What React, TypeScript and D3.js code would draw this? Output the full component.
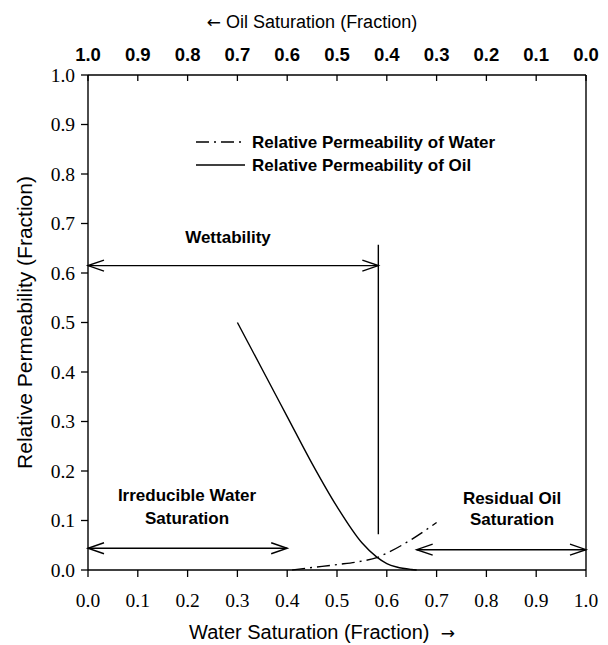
import React from "react";
import * as d3 from "d3";

const W = 608;
const H = 645;
const M = { left: 88, right: 586, top: 75, bottom: 570 };

const xTicks = [0, 0.1, 0.2, 0.3, 0.4, 0.5, 0.6, 0.7, 0.8, 0.9, 1.0];
const yTicks = [0, 0.1, 0.2, 0.3, 0.4, 0.5, 0.6, 0.7, 0.8, 0.9, 1.0];

// Relative permeability of oil (Sw, kro)
const oilSw = [0.3, 0.35, 0.4, 0.45, 0.5, 0.55, 0.58, 0.6, 0.62, 0.65, 0.66];
const oilKr = [0.5, 0.405, 0.31, 0.215, 0.128, 0.055, 0.026, 0.013, 0.006, 0.001, 0.0];

// Relative permeability of water (Sw, krw)
const waterSw = [0.41, 0.45, 0.5, 0.55, 0.58, 0.6, 0.65, 0.7];
const waterKr = [0.0, 0.005, 0.011, 0.018, 0.025, 0.034, 0.062, 0.096];

const legendLabels = ["Relative Permeability of Water", "Relative Permeability of Oil"];

// annotations in data units
const wettability = { y: 0.615, x0: 0, x1: 0.583, vTop: 0.657, vBottom: 0.072 };
const irreducible = { y: 0.044, x0: 0, x1: 0.4 };
const residual = { y: 0.041, x0: 0.66, x1: 1.0 };

const sans = "'Liberation Sans', Arial, sans-serif";
const serif = "'Liberation Serif', 'Times New Roman', serif";

function DoubleArrow({ x0, x1, y }: { x0: number; x1: number; y: number }) {
  const L = 16;
  const S = 5.5;
  return (
    <g stroke="#000" strokeWidth={1.4} fill="none">
      <line x1={x0} y1={y} x2={x1} y2={y} />
      <path d={`M${x0 + L},${y - S} L${x0},${y} L${x0 + L},${y + S}`} />
      <path d={`M${x1 - L},${y - S} L${x1},${y} L${x1 - L},${y + S}`} />
    </g>
  );
}

export default function App() {
  const x = d3.scaleLinear().domain([0, 1]).range([M.left, M.right]);
  const y = d3.scaleLinear().domain([0, 1]).range([M.bottom, M.top]);
  const xTop = d3.scaleLinear().domain([1, 0]).range([M.left, M.right]);

  const line = d3
    .line<[number, number]>()
    .x((d) => x(d[0]))
    .y((d) => y(d[1]))
    .curve(d3.curveMonotoneX);

  const oilData: [number, number][] = oilSw.map((s, i) => [s, oilKr[i]]);
  const waterData: [number, number][] = waterSw.map((s, i) => [s, waterKr[i]]);

  const dashWater = "13,5,2,5";
  const annFont = 17;

  return (
    <svg
      width={W}
      height={H}
      style={{ position: "absolute", left: 0, top: 0, background: "#fff" }}
    >
      <rect x={0} y={0} width={W} height={H} fill="#fff" />
      {/* frame */}
      <g stroke="#000" strokeWidth={1.4} fill="none">
        <line x1={M.left} y1={M.top} x2={M.right} y2={M.top} />
        <line x1={M.left} y1={M.bottom} x2={M.right} y2={M.bottom} />
        <line x1={M.left} y1={M.top} x2={M.left} y2={M.bottom} />
        <line x1={M.right} y1={M.top} x2={M.right} y2={M.bottom} />
      </g>

      {/* bottom axis */}
      {xTicks.map((t) => (
        <g key={"b" + t}>
          <line x1={x(t)} x2={x(t)} y1={M.bottom} y2={M.bottom + 7} stroke="#000" strokeWidth={1.3} />
          <text x={x(t)} y={607} textAnchor="middle" fontFamily={serif} fontSize={19.5} fill="#000">
            {t.toFixed(1)}
          </text>
        </g>
      ))}
      {/* top axis */}
      {xTicks.map((t) => (
        <g key={"t" + t}>
          <line x1={xTop(t)} x2={xTop(t)} y1={M.top} y2={M.top + 6} stroke="#000" strokeWidth={1.3} />
          <text x={xTop(t)} y={61} textAnchor="middle" fontFamily={sans} fontWeight="bold" fontSize={18.5} fill="#000">
            {t.toFixed(1)}
          </text>
        </g>
      ))}
      {/* left axis */}
      {yTicks.map((t) => (
        <g key={"l" + t}>
          <line x1={M.left - 7} x2={M.left} y1={y(t)} y2={y(t)} stroke="#000" strokeWidth={1.3} />
          <text x={75} y={y(t) + 6.5} textAnchor="end" fontFamily={serif} fontSize={19.5} fill="#000">
            {t.toFixed(1)}
          </text>
        </g>
      ))}

      {/* axis titles */}
      <text x={312} y={28} textAnchor="middle" fontFamily={sans} fontSize={18} fill="#000">
        <tspan fontFamily="'DejaVu Sans', sans-serif" fontSize={17}>←</tspan> Oil Saturation (Fraction)
      </text>
      <text x={322} y={639} textAnchor="middle" fontFamily={sans} fontSize={20} fill="#000">
        Water Saturation (Fraction){"\u00a0\u00a0"}
        <tspan fontFamily="'DejaVu Sans', sans-serif" fontSize={17}>→</tspan>
      </text>
      <text
        transform={`translate(32, ${(M.top + M.bottom) / 2}) rotate(-90)`}
        textAnchor="middle"
        fontFamily={sans}
        fontSize={21}
        fill="#000"
      >
        Relative Permeability (Fraction)
      </text>

      {/* curves */}
      <path d={line(oilData) || ""} fill="none" stroke="#000" strokeWidth={1.4} />
      <path d={line(waterData) || ""} fill="none" stroke="#000" strokeWidth={1.4} strokeDasharray={dashWater} />

      {/* legend */}
      <line x1={196} x2={245} y1={142} y2={142} stroke="#000" strokeWidth={1.4} strokeDasharray={dashWater} />
      <text x={252} y={148} fontFamily={sans} fontWeight="bold" fontSize={annFont} fill="#000">
        {legendLabels[0]}
      </text>
      <line x1={196} x2={245} y1={165} y2={165} stroke="#000" strokeWidth={1.4} />
      <text x={252} y={171} fontFamily={sans} fontWeight="bold" fontSize={annFont} fill="#000">
        {legendLabels[1]}
      </text>

      {/* wettability */}
      <text x={228} y={243} textAnchor="middle" fontFamily={sans} fontWeight="bold" fontSize={annFont} fill="#000">
        Wettability
      </text>
      <DoubleArrow x0={x(wettability.x0)} x1={x(wettability.x1)} y={y(wettability.y)} />
      <line
        x1={x(wettability.x1)}
        x2={x(wettability.x1)}
        y1={y(wettability.vTop)}
        y2={y(wettability.vBottom)}
        stroke="#000"
        strokeWidth={1.4}
      />

      {/* irreducible water saturation */}
      <text x={187} y={501} textAnchor="middle" fontFamily={sans} fontWeight="bold" fontSize={annFont} fill="#000">
        Irreducible Water
      </text>
      <text x={187} y={524} textAnchor="middle" fontFamily={sans} fontWeight="bold" fontSize={annFont} fill="#000">
        Saturation
      </text>
      <DoubleArrow x0={x(irreducible.x0)} x1={x(irreducible.x1)} y={y(irreducible.y)} />

      {/* residual oil saturation */}
      <text x={512} y={504} textAnchor="middle" fontFamily={sans} fontWeight="bold" fontSize={annFont} fill="#000">
        Residual Oil
      </text>
      <text x={512} y={525} textAnchor="middle" fontFamily={sans} fontWeight="bold" fontSize={annFont} fill="#000">
        Saturation
      </text>
      <DoubleArrow x0={x(residual.x0)} x1={x(residual.x1)} y={y(residual.y)} />
    </svg>
  );
}
